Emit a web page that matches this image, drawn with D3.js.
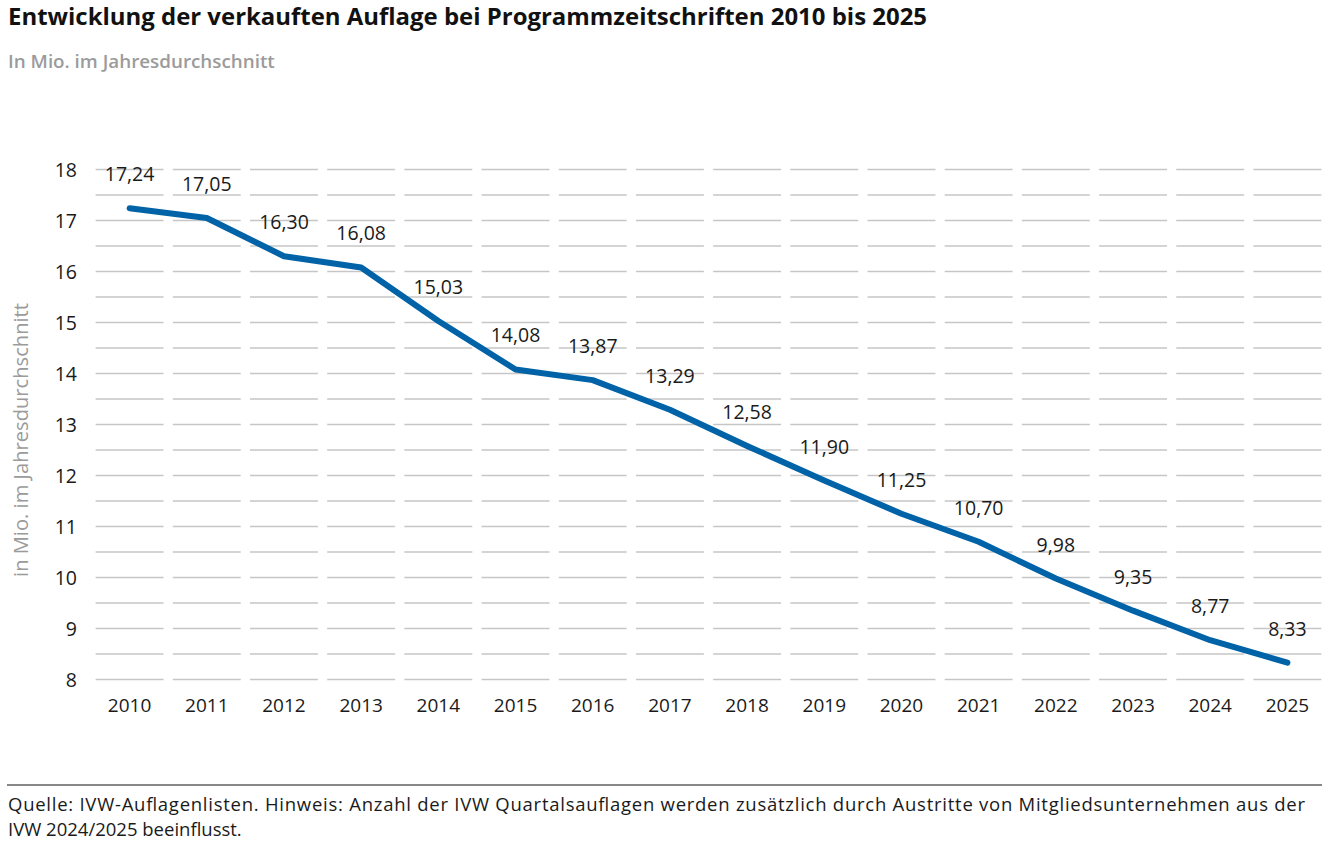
<!DOCTYPE html>
<html>
<head>
<meta charset="utf-8">
<script src="https://cdn.jsdelivr.net/npm/d3@7"></script>
<style>
  html, body { margin: 0; padding: 0; background: #fff; }
  svg { display: block; }
  text { font-family: "Open Sans", "Noto Sans", sans-serif; }
</style>
</head>
<body>
<svg id="chart" width="1322" height="843"></svg>
<script>
const years = ["2010","2011","2012","2013","2014","2015","2016","2017","2018","2019","2020","2021","2022","2023","2024","2025"];
const values = [17.24,17.05,16.30,16.08,15.03,14.08,13.87,13.29,12.58,11.90,11.25,10.70,9.98,9.35,8.77,8.33];
const yTicks = [8,9,10,11,12,13,14,15,16,17,18];
const gridValues = [8,8.5,9,9.5,10,10.5,11,11.5,12,12.5,13,13.5,14,14.5,15,15.5,16,16.5,17,17.5,18];
const titleText = "Entwicklung der verkauften Auflage bei Programmzeitschriften 2010 bis 2025";
const subtitleText = "In Mio. im Jahresdurchschnitt";
const yAxisTitle = "in Mio. im Jahresdurchschnitt";
const footerLines = [
  "Quelle: IVW-Auflagenlisten. Hinweis: Anzahl der IVW Quartalsauflagen werden zusätzlich durch Austritte von Mitgliedsunternehmen aus der",
  "IVW 2024/2025 beeinflusst."
];

const svg = d3.select("#chart");
const fmt = v => d3.format(".2f")(v).replace(".", ",");

function fitWidth(sel, target) {
  const w = sel.node().getComputedTextLength();
  const fs = parseFloat(sel.attr("font-size"));
  sel.attr("font-size", (fs * target / w).toFixed(2));
}

// Title
const title = svg.append("text").attr("x", 8).attr("y", 25)
  .attr("font-size", 22).attr("font-weight", 700).attr("fill", "#111")
  .text(titleText);
fitWidth(title, 919);

const sub = svg.append("text").attr("x", 8).attr("y", 68)
  .attr("font-size", 18).attr("font-weight", 600).attr("fill", "#9b9b9b")
  .text(subtitleText);
fitWidth(sub, 267);

// Scales
const x = d3.scaleBand().domain(years).range([91, 1326]).paddingInner(0.12).paddingOuter(0.06);
const y = d3.scaleLinear().domain([8, 18]).range([679.5, 169.5]);

// Grid segments (per band)
const grid = svg.append("g").attr("class", "grid");
gridValues.forEach(g => {
  grid.selectAll(null).data(years).enter().append("line")
    .attr("x1", d => x(d)).attr("x2", d => x(d) + x.bandwidth())
    .attr("y1", y(g)).attr("y2", y(g))
    .attr("stroke", "#c6c6c6").attr("stroke-width", 1.3);
});

// Y axis
const yAxis = svg.append("g").attr("transform", "translate(77,0)")
  .call(d3.axisLeft(y).tickValues(yTicks).tickSize(0).tickPadding(0).tickFormat(d3.format("d")));
yAxis.select(".domain").remove();
yAxis.selectAll("text").attr("font-size", 19.5).attr("fill", "#1a1a1a")
  .attr("font-family", "'Open Sans', sans-serif").attr("dy", "0.35em");

// X axis
const xAxis = svg.append("g").attr("transform", "translate(0,700)")
  .call(d3.axisBottom(x).tickSize(0).tickPadding(0));
xAxis.select(".domain").remove();
xAxis.selectAll("text").attr("font-size", 19).attr("fill", "#1a1a1a")
  .attr("font-family", "'Open Sans', sans-serif").attr("dy", "0").attr("y", 12);

// Y axis title
const yt = svg.append("text")
  .attr("transform", "translate(28,440) rotate(-90)")
  .attr("text-anchor", "middle")
  .attr("font-size", 19).attr("fill", "#9b9b9b")
  .text(yAxisTitle);
fitWidth(yt, 274);

// Line
const cx = d => x(d) + x.bandwidth() / 2;
const line = d3.line().x((d, i) => cx(years[i])).y(d => y(d));
svg.append("path").datum(values)
  .attr("d", line).attr("fill", "none")
  .attr("stroke", "#0062a7").attr("stroke-width", 6)
  .attr("stroke-linejoin", "round").attr("stroke-linecap", "round");

// Data labels
svg.append("g").selectAll("text").data(values).enter().append("text")
  .attr("x", (d, i) => cx(years[i]))
  .attr("y", d => y(d) - 27)
  .attr("text-anchor", "middle")
  .attr("font-size", 19.5).attr("fill", "#1a1a1a")
  .text(d => fmt(d));

// Footer
svg.append("line").attr("x1", 7).attr("x2", 1322).attr("y1", 785).attr("y2", 785)
  .attr("stroke", "#111").attr("stroke-width", 1.2);
svg.append("text").attr("x", 8).attr("y", 811)
  .attr("font-size", 18.5).attr("fill", "#1a1a1a")
  .attr("textLength", 1297).attr("lengthAdjust", "spacing")
  .text(footerLines[0]);
svg.append("text").attr("x", 8).attr("y", 836)
  .attr("font-size", 18.5).attr("fill", "#1a1a1a").text(footerLines[1]);
</script>
</body>
</html>
